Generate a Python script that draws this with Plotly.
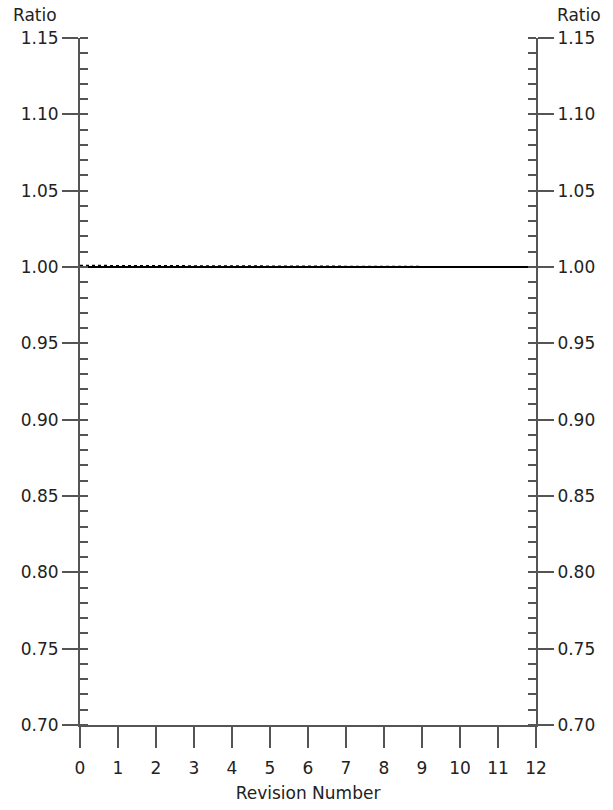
import plotly.graph_objects as go

revisions = list(range(0, 13))
ratio_solid = [1.0000, 1.0000, 1.0000, 1.0000, 1.0000, 1.0000, 1.0000, 1.0000, 1.0000, 1.0000, 1.0000, 1.0000, 1.0000]
ratio_dotted = [1.0008, 1.0007, 1.0003, 1.0002, 1.0001, 1.0001, 1.0000, 1.0000, 1.0001, 1.0001, 1.0000, 1.0000, 1.0000]

x_ticks = list(range(0, 13))
y_ticks = [0.70, 0.75, 0.80, 0.85, 0.90, 0.95, 1.00, 1.05, 1.10, 1.15]

FONT = "DejaVu Sans"
AX = "#555555"
TXT = "#222222"

fig = go.Figure()
fig.add_trace(go.Scatter(x=revisions, y=ratio_solid, mode="lines",
                         line=dict(color="black", width=2), showlegend=False, cliponaxis=False))
fig.add_trace(go.Scatter(x=revisions, y=ratio_dotted, mode="lines",
                         line=dict(color="black", width=2, dash="dot"), showlegend=False))
# invisible trace for right axis
fig.add_trace(go.Scatter(x=[revisions[0]], y=[ratio_solid[0]], yaxis="y2", mode="lines",
                         line=dict(width=0), showlegend=False, hoverinfo="skip"))

yax = dict(range=[0.70, 1.15], tickvals=y_ticks, ticktext=[f"{v:.2f}" for v in y_ticks],
           ticks="outside", ticklen=16, tickwidth=1.5, tickcolor=AX,
           showline=True, linecolor=AX, linewidth=2, showgrid=False, zeroline=False,
           minor=dict(ticks="inside", ticklen=8, dtick=0.01, tickcolor=AX, tickwidth=1.5, showgrid=False),
           tickfont=dict(family=FONT, size=17, color=TXT))

fig.update_layout(
    width=613, height=810,
    margin=dict(l=80, r=77, t=38, b=85, autoexpand=False),
    paper_bgcolor="white", plot_bgcolor="white",
    font=dict(family=FONT, color=TXT),
    xaxis=dict(range=[0, 12], tickvals=x_ticks, ticktext=[str(v) for v in x_ticks],
               ticks="outside", ticklen=21, tickwidth=1.5, tickcolor=AX,
               showline=True, linecolor=AX, linewidth=2, showgrid=False, zeroline=False,
               ticklabelstandoff=6,
               tickfont=dict(family=FONT, size=17, color=TXT),
               title=dict(text="Revision Number", font=dict(family=FONT, size=17, color=TXT), standoff=10)),
    yaxis=dict(**yax, side="left"),
    yaxis2=dict(**yax, side="right", overlaying="y", anchor="x"),
    annotations=[
        dict(text="Ratio", x=0, y=1, xref="paper", yref="paper", xanchor="center", yanchor="bottom",
             xshift=-45, yshift=11, showarrow=False, font=dict(family=FONT, size=17, color=TXT)),
        dict(text="Ratio", x=1, y=1, xref="paper", yref="paper", xanchor="center", yanchor="bottom",
             xshift=43, yshift=11, showarrow=False, font=dict(family=FONT, size=17, color=TXT)),
    ],
)

fig.write_html("out.html", config={"displayModeBar": False},
               post_script="document.body.style.margin='0';document.body.style.padding='0';")
